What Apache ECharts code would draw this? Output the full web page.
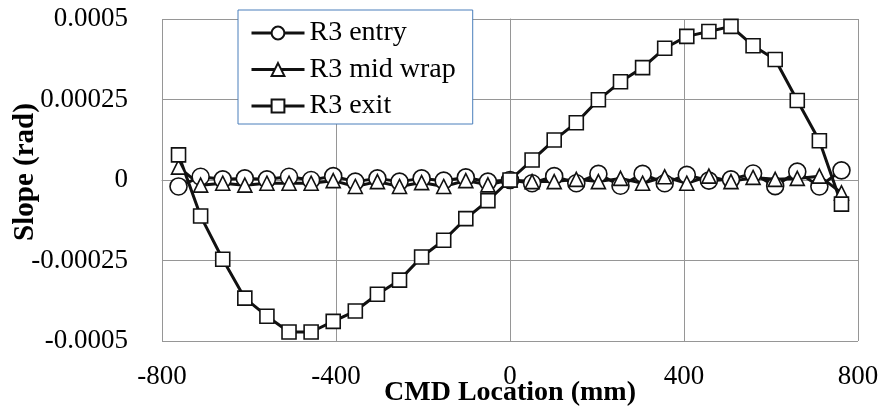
<!DOCTYPE html>
<html>
<head>
    <meta charset="UTF-8">
    <title></title>
</head>
<body style="margin:0">
<div id="main" style="width: 882px;height:409px"></div>
</body>
<script type="text/javascript" src="https://cdn.jsdelivr.net/npm/echarts@6/dist/echarts.min.js"></script>
<script type="text/javascript">
    // CMD location (mm), one point every 50.8 mm
    var xs = [-762, -711.2, -660.4, -609.6, -558.8, -508, -457.2, -406.4, -355.6, -304.8, -254,
        -203.2, -152.4, -101.6, -50.8, 0, 50.8, 101.6, 152.4, 203.2, 254, 304.8, 355.6,
        406.4, 457.2, 508, 558.8, 609.6, 660.4, 711.2, 762];
    // slope (rad)
    var entry = [-2.0e-5, 1.0e-5, 0.2e-5, 0.5e-5, 0.2e-5, 1.0e-5, 0, 1.2e-5, -0.5e-5, 0.5e-5, -0.5e-5,
        0.5e-5, -0.2e-5, 0.8e-5, -0.5e-5, 0, -1.0e-5, 1.2e-5, -1.0e-5, 1.9e-5, -1.8e-5, 1.9e-5, -1.0e-5,
        1.6e-5, -0.2e-5, 0.2e-5, 2.0e-5, -1.9e-5, 2.6e-5, -2.0e-5, 3.0e-5];
    var midWrap = [4.0e-5, -1.6e-5, -1.0e-5, -1.6e-5, -1.0e-5, -1.0e-5, -1.0e-5, -0.2e-5, -2.0e-5, -0.5e-5, -2.0e-5,
        -0.8e-5, -2.0e-5, -0.2e-5, -1.5e-5, 0, -0.5e-5, -0.5e-5, 0.2e-5, -0.5e-5, 0.5e-5, -1.0e-5, 1.0e-5,
        -1.0e-5, 1.2e-5, -0.5e-5, 0.8e-5, 0.2e-5, 0.5e-5, 1.2e-5, -4.0e-5];
    var exit = [7.8e-5, -11.2e-5, -24.6e-5, -36.7e-5, -42.3e-5, -47.2e-5, -47.2e-5, -43.9e-5, -40.7e-5, -35.5e-5, -31.1e-5,
        -23.9e-5, -18.7e-5, -12.0e-5, -6.4e-5, 0, 6.2e-5, 12.4e-5, 17.8e-5, 24.9e-5, 30.5e-5, 34.9e-5, 40.9e-5,
        44.6e-5, 46.1e-5, 47.7e-5, 41.7e-5, 37.4e-5, 24.7e-5, 12.2e-5, -7.5e-5];
    var names = ['R3 entry', 'R3 mid wrap', 'R3 exit'];
    var symbols = ['circle', 'triangle', 'rect'];
    var symbolSizes = [17, 14, 14];
    var yTicks = ['-0.0005', '-0.00025', '0', '0.00025', '0.0005'];

    var font = 'Liberation Serif';
    var gridColor = '#969696';

    function pairs(ys) {
        return xs.map(function (x, i) { return [x, ys[i]]; });
    }

    var myChart = echarts.init(document.getElementById('main'));
    var series = [entry, midWrap, exit].map(function (ys, i) {
        return {
            name: names[i],
            type: 'line',
            data: pairs(ys),
            symbol: symbols[i],
            symbolSize: symbolSizes[i],
            showAllSymbol: true,
            lineStyle: {color: '#111', width: 3},
            itemStyle: {color: '#ffffff', borderColor: '#111', borderWidth: 1.6},
            emphasis: {disabled: true},
            animation: false
        };
    });

    var option = {
        animation: false,
        grid: {left: 162, right: 24, top: 19, bottom: 68, outerBoundsMode: 'none'},
        legend: {
            orient: 'vertical',
            left: 238,
            top: 10,
            backgroundColor: '#ffffff',
            borderColor: '#4a7ebb',
            borderWidth: 1,
            borderRadius: 0,
            padding: [9, 17, 4, 12],
            itemWidth: 53,
            itemHeight: 16,
            itemGap: 8.5,
            lineStyle: {width: 3},
            textStyle: {fontFamily: font, fontSize: 28, color: '#000'},
            data: names
        },
        xAxis: {
            type: 'value',
            min: -800,
            max: 800,
            interval: 400,
            name: 'CMD Location (mm)',
            nameLocation: 'middle',
            nameGap: 38,
            nameMoveOverlap: false,
            nameTextStyle: {fontFamily: font, fontSize: 28, fontWeight: 'bold', color: '#000'},
            axisLine: {lineStyle: {color: gridColor}},
            axisTick: {show: true, length: 8, lineStyle: {color: gridColor}},
            axisLabel: {fontFamily: font, fontSize: 27, color: '#000', margin: 22},
            splitLine: {lineStyle: {color: gridColor, width: 1}}
        },
        yAxis: {
            type: 'value',
            min: -0.0005,
            max: 0.0005,
            interval: 0.00025,
            name: 'Slope (rad)',
            nameLocation: 'middle',
            nameGap: 122,
            nameMoveOverlap: false,
            nameTextStyle: {fontFamily: font, fontSize: 29, fontWeight: 'bold', color: '#000', padding: [0, 0, 0, 16]},
            axisLine: {show: true, lineStyle: {color: gridColor}},
            axisTick: {show: true, length: 8, lineStyle: {color: gridColor}},
            axisLabel: {
                fontFamily: font, fontSize: 27, color: '#000', margin: 34,
                formatter: function (v) {
                    return yTicks[Math.round((v + 0.0005) / 0.00025)];
                }
            },
            splitLine: {lineStyle: {color: gridColor, width: 1}}
        },
        series: series
    };

    myChart.setOption(option);
</script>
</html>
